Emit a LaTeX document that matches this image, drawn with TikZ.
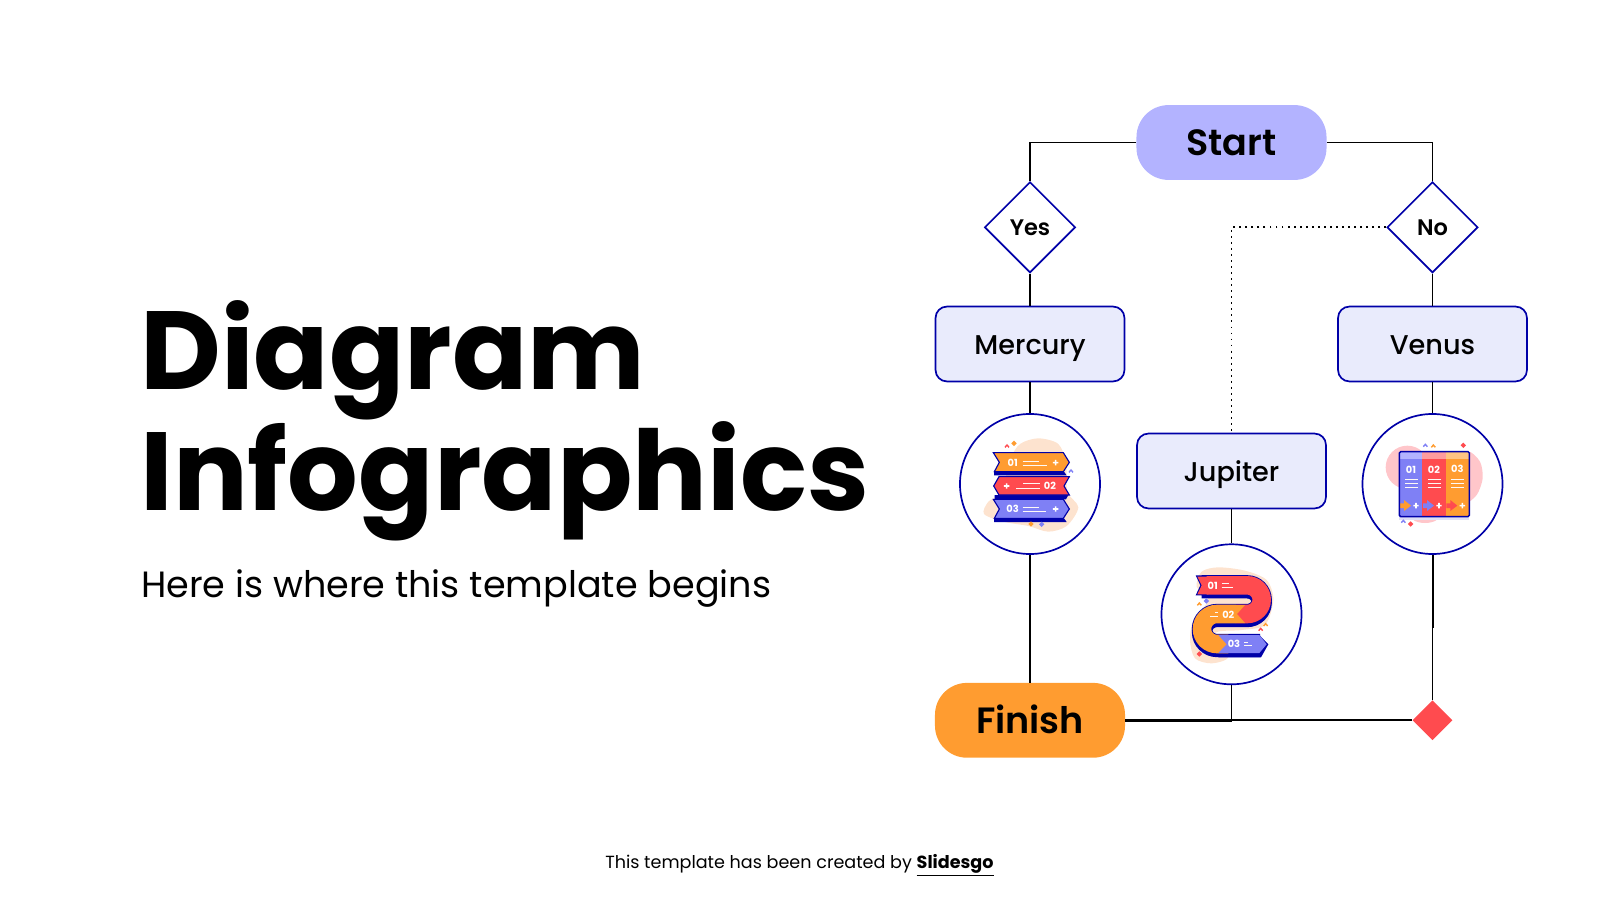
\documentclass[tikz,border=0pt]{standalone}
\usepackage{fontspec}
\usetikzlibrary{shapes.geometric}
\setmainfont{Poppins}
\newfontfamily\medfont{Poppins Medium}
\newfontfamily\semifont{Poppins SemiBold}
\definecolor{linkblue}{HTML}{0000A8}
\definecolor{startfill}{HTML}{B3B3FF}
\definecolor{boxfill}{HTML}{E9EBFC}
\definecolor{finishfill}{HTML}{FF9C30}
\definecolor{markred}{HTML}{FF4B4F}
\definecolor{iconpurple}{HTML}{7F80F5}
\definecolor{iconpeach}{HTML}{FDE3CF}
\definecolor{iconpink}{HTML}{FFC6CA}
\tikzset{
  pill/.style={rectangle,rounded corners=0.8cm,minimum width=4.75cm,minimum height=1.87cm,text height=0.67cm,text depth=0pt,font=\semifont\fontsize{26}{30}\selectfont},
  planet/.style={rectangle,rounded corners=0.28cm,draw=linkblue,line width=1.2pt,fill=boxfill,minimum width=4.72cm,minimum height=1.87cm,text height=0.51cm,text depth=0pt,font=\medfont\fontsize{19.3}{23}\selectfont},
  choice/.style={diamond,draw=linkblue,line width=1.2pt,fill=white,minimum width=2.27cm,minimum height=2.27cm,inner sep=0pt,text height=0.42cm,text depth=0pt,font=\semifont\fontsize{16}{18}\selectfont},
  iconring/.style={circle,draw=linkblue,line width=1.2pt,minimum size=3.5cm,inner sep=0pt},
  link/.style={line width=1.25pt,black},
  digit/.style={text=white,inner sep=0pt,font=\bfseries\fontsize{7}{8}\selectfont},
  barline/.style={line width=0.6pt,white!80!iconpeach},
  plusmark/.pic={\fill[white] (-2.7,-0.8) rectangle (2.7,0.8) (-0.8,-2.7) rectangle (0.8,2.7);},
  chevmark/.pic={\draw[pic actions,line width=1pt] (-2,1) -- (0,-1.3) -- (2,1);},
  dotmark/.pic={\fill[pic actions] (0,-2.7) -- (2.7,0) -- (0,2.7) -- (-2.7,0) -- cycle;}
}
\begin{document}
\begin{tikzpicture}[x=0.025cm,y=-0.025cm]
\useasboundingbox (0,0) rectangle (1600,900);
\pgfmathsetmacro{\colA}{1030}
\pgfmathsetmacro{\colB}{1231.5}
\pgfmathsetmacro{\colC}{1432.5}
% left texts
\node[anchor=base west,inner sep=0pt,font=\bfseries\fontsize{79}{86}\selectfont] (head) at (140,389.3) {Diagram};
\node[anchor=base west,inner sep=0pt,font=\bfseries\fontsize{79}{86}\selectfont] (headb) at (140,510) {Infographics};
\node[anchor=base west,inner sep=0pt,font=\fontsize{26}{30}\selectfont] (sub) at (141,597.3) {Here is where this template begins};
\node[anchor=base west,inner sep=0pt,font=\fontsize{12.5}{16}\selectfont] (credit) at (605,868) {This template has been created by \textbf{\underline{Slidesgo}}};
% nodes
\node[pill,fill=startfill] (start) at (\colB,142.5) {Start};
\node[pill,fill=finishfill] (finish) at (\colA,720.3) {Finish};
\node[choice] (yes) at (\colA,227.3) {Yes};
\node[choice] (no) at (\colC,227.3) {No};
\node[planet] (mercury) at (\colA,344) {Mercury};
\node[planet] (venus) at (\colC,344) {Venus};
\node[planet] (jupiter) at (\colB,471) {Jupiter};
\node[iconring] (ringa) at (\colA,484) {};
\node[iconring] (ringb) at (\colB,614.3) {};
\node[iconring] (ringc) at (\colC,484) {};
\node[diamond,fill=markred,minimum width=1cm,minimum height=1cm,inner sep=0pt] (mark) at (\colC,720.3) {};
\coordinate (joint) at (\colB,720.3);
\coordinate (jog) at (\colC+0.8,627);
% connectors
\draw[link] (start.west) -| (yes.north);
\draw[link] (start.east) -| (no.north);
\draw[link] (yes) -- (mercury);
\draw[link] (no) -- (venus);
\draw[link] (mercury) -- (ringa);
\draw[link] (venus) -- (ringc);
\draw[link] (jupiter) -- (ringb);
\draw[link] (ringa) -- (finish);
\draw[link] (ringb) -- (joint);
\draw[link,line width=1.8pt] (finish.east) -- (joint);
\draw[link] (joint) -- (mark.west);
\draw[link] (ringc.south -| jog) -- (jog) -- ++(-0.8,0) -- (mark.north);
\draw[black,line width=1.3pt,dash pattern=on 1.3pt off 3pt] (no.west) -| (jupiter.north);
% stacked bars
\begin{scope}[shift={(960,420)},scale=1/3]
\fill[iconpeach] plot[smooth cycle] coordinates {(180,72) (235,55) (295,72) (318,130) (322,215) (355,262) (320,318) (265,335) (205,318) (130,305) (72,282) (85,245) (125,215) (150,120)};
\foreach \ya/\shade in {98/finishfill,238/iconpurple}{
  \fill[linkblue] (102,\ya+57) -- (312,\ya+57) -- (320,\ya+68) -- (102,\ya+68) -- cycle;
  \draw[linkblue,line width=0.8pt,fill=\shade] (100,\ya) -- (310,\ya) -- (328,\ya+29) -- (310,\ya+57) -- (103,\ya+57) -- (118,\ya+29) -- cycle;
}
\fill[linkblue] (104,225) -- (325,225) -- (318,238) -- (104,238) -- cycle;
\draw[linkblue,line width=0.8pt,fill=markred] (117,170) -- (328,170) -- (312,198) -- (328,225) -- (117,225) -- (101,198) -- cycle;
\node[digit] (bara) at (158,128) {01};
\node[digit] (barb) at (270,198) {02};
\node[digit] (barc) at (158,266) {03};
\draw[barline] (188,123) -- (238,123) (188,135) -- (260,135);
\draw[barline] (190,191) -- (240,191) (168,205) -- (240,205);
\draw[barline] (188,262) -- (238,262) (188,273) -- (258,273);
\pic at (287,128) {plusmark};
\pic at (140,198) {plusmark};
\pic at (287,267) {plusmark};
\pic[fill=finishfill] at (162,70) {dotmark};
\pic[draw=markred] at (141,79) {chevmark};
\pic[draw=iconpurple] at (333,154) {chevmark};
\pic[fill=finishfill] at (213,312) {dotmark};
\pic[fill=iconpurple] at (245,313) {dotmark};
\end{scope}
% ribbon
\begin{scope}[shift={(1165,550)},scale=1/3]
\fill[iconpeach] plot[smooth cycle] coordinates {(110,65) (160,52) (240,62) (305,90) (325,150) (300,225) (230,240) (150,250) (190,320) (140,340) (90,325) (75,270) (85,210) (130,150) (95,110)};
\foreach \dy in {0,9}{
  \draw[linkblue,line width=14.4pt] (110,106+\dy) -- (247,106+\dy) arc[start angle=-90,end angle=90,radius=43] -- (156,192+\dy) arc[start angle=270,end angle=90,radius=45] -- (285,282+\dy);
}
\fill[linkblue] (92,76) -- (130,76) -- (130,136) -- (92,136) -- (106,106) -- cycle;
\fill[linkblue] (280,252) -- (310,283) -- (288,322) -- (160,322) -- (160,252) -- cycle;
\draw[markred,line width=13.2pt] (125,106) -- (247,106) arc[start angle=-90,end angle=90,radius=43] -- (214,192);
\fill[markred] (97,80) -- (130,80) -- (130,133) -- (97,133) -- (110,106) -- cycle;
\draw[finishfill,line width=13.2pt] (214,192) -- (156,192) arc[start angle=270,end angle=90,radius=45] -- (190,282);
\fill[finishfill] (212,165) -- (240,165) -- (216,192) -- (240,219) -- (212,219) -- cycle;
\fill[iconpurple] (160,255) -- (283,255) -- (305,283) -- (283,309) -- (160,309) -- (185,283) -- cycle;
\node[digit] (ribbona) at (143,106) {01};
\node[digit] (ribbonb) at (190,194) {02};
\node[digit] (ribbonc) at (207,283) {03};
\draw[barline] (170,101) -- (193,101) (170,111) -- (205,111);
\draw[barline] (150,187) -- (160,187) (135,200) -- (160,200);
\draw[barline] (237,277) -- (250,277) (237,287) -- (260,287);
\pic[draw=finishfill] at (103,163) {chevmark};
\pic[fill=iconpurple] at (124,153) {dotmark};
\pic[draw=finishfill] at (302,225) {chevmark};
\pic[draw=markred] at (287,239) {chevmark};
\pic[fill=markred] at (103,312) {dotmark};
\end{scope}
% columns
\begin{scope}[shift={(1370,420)},scale=1/3]
\fill[iconpink] (112,142) circle (65);
\fill[iconpink] plot[smooth cycle] coordinates {(295,95) (330,125) (338,175) (320,225) (285,245) (280,150)};
\fill[iconpink] (165,285) ellipse (45 and 24);
\fill[linkblue!12] (88,290) rectangle (298,301);
\foreach \xa/\shade/\headfill/\arrowfill/\num in {88/iconpurple/startfill/finishfill/01,157/markred/markred!55/iconpurple/02,227/finishfill/finishfill!60/markred/03}{
  \fill[\shade] (\xa,95) rectangle (\xa+71,290);
  \fill[\headfill] (\xa,95) rectangle (\xa+71,118);
  \node[digit] (col\num) at (\xa+35,148) {\num};
  \draw[barline] (\xa+17,178) -- (\xa+55,178) (\xa+17,190) -- (\xa+55,190) (\xa+17,203) -- (\xa+55,203);
  \fill[\arrowfill] (\xa+2,250) -- (\xa+14,250) -- (\xa+14,240) -- (\xa+35,257) -- (\xa+14,273) -- (\xa+14,264) -- (\xa+2,264) -- cycle;
  \pic at (\xa+50,257) {plusmark};
}
\draw[linkblue,line width=1pt,rounded corners=1pt] (88,95) rectangle (298,290);
\pic[draw=iconpurple] at (166,77) {chevmark};
\pic[draw=finishfill] at (190,79) {chevmark};
\pic[fill=markred] at (280,76) {dotmark};
\pic[draw=iconpurple] at (100,305) {chevmark};
\pic[fill=markred] at (122,312) {dotmark};
\end{scope}
\end{tikzpicture}
\end{document}
